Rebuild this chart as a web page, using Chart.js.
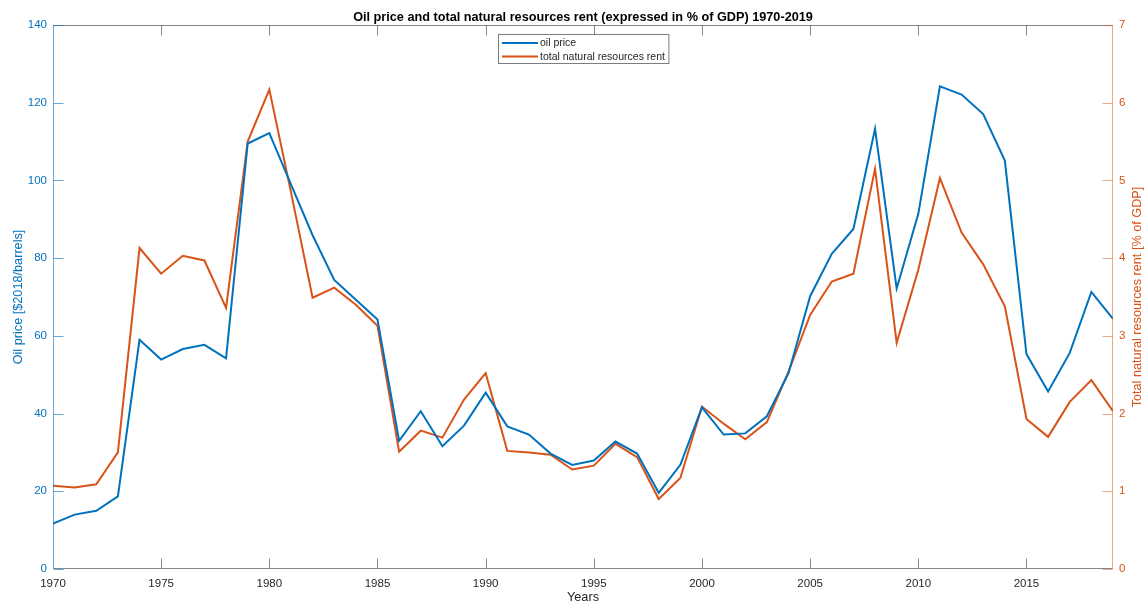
<!DOCTYPE html>
<html>
<head>
<meta charset="utf-8">
<script src="https://cdn.jsdelivr.net/npm/chart.js@4.4.1/dist/chart.umd.min.js"></script>
<style>
  html, body { margin: 0; padding: 0; background: #ffffff; }
  #wrap { width: 1144px; height: 605px; }
</style>
</head>
<body>
<div id="wrap"><canvas id="c" width="1144" height="605"></canvas></div>
<script>
// ---- data ----
const years = [1970,1971,1972,1973,1974,1975,1976,1977,1978,1979,
               1980,1981,1982,1983,1984,1985,1986,1987,1988,1989,
               1990,1991,1992,1993,1994,1995,1996,1997,1998,1999,
               2000,2001,2002,2003,2004,2005,2006,2007,2008,2009,
               2010,2011,2012,2013,2014,2015,2016,2017,2018,2019];
const oilPrice = [11.7,14.0,15.0,18.7,59.0,53.9,56.6,57.7,54.2,109.5,
                  112.2,99.0,85.9,74.4,69.3,64.2,33.0,40.6,31.6,36.9,
                  45.4,36.7,34.6,29.7,26.8,27.9,32.8,29.7,19.6,26.8,
                  41.6,34.6,34.9,39.3,50.4,70.2,81.1,87.5,113.3,72.2,
                  91.4,124.2,122.1,117.1,105.1,55.3,45.7,55.6,71.3,64.4];
const resourceRent = [1.07,1.05,1.09,1.50,4.13,3.80,4.03,3.97,3.36,5.50,
                      6.17,4.85,3.49,3.62,3.40,3.13,1.51,1.78,1.69,2.18,
                      2.52,1.52,1.50,1.47,1.28,1.33,1.61,1.44,0.90,1.17,
                      2.09,1.87,1.67,1.89,2.54,3.27,3.70,3.80,5.15,2.91,
                      3.85,5.03,4.33,3.92,3.38,1.93,1.70,2.15,2.43,2.03];
const seriesLabels = ['oil price', 'total natural resources rent'];
const titleText = 'Oil price and total natural resources rent (expressed in % of GDP) 1970-2019';
const xTitle = 'Years';
const yLeftTitle = 'Oil price [$2018/barrels]';
const yRightTitle = 'Total natural resources rent [% of GDP]';

// ---- styles ----
const FONT = '"Liberation Sans", Arial, Helvetica, sans-serif';
const BLUE = '#0072BD';
const ORANGE = '#D95319';
const DARK = '#262626';

const toPoints = (vals) => years.map((yr, i) => ({ x: yr, y: vals[i] }));

const axesBoxPlugin = {
  id: 'axesBox',
  afterDatasetsDraw(chart) {
    const { ctx, chartArea: ca, scales } = chart;
    const L = Math.round(ca.left) + 0.5, R = Math.round(ca.right) - 0.5;
    const T = Math.round(ca.top) + 0.5, B = Math.round(ca.bottom) - 0.5;
    const tl = 10;
    ctx.save();
    ctx.lineWidth = 1;
    ctx.strokeStyle = 'rgba(38,38,38,0.55)';
    ctx.beginPath();
    ctx.moveTo(L, T); ctx.lineTo(R, T);
    ctx.moveTo(L, B); ctx.lineTo(R, B);
    scales.x.ticks.forEach(t => {
      const px = Math.round(scales.x.getPixelForValue(t.value)) + 0.5;
      if (px <= L + 1 || px >= R - 1) return;
      ctx.moveTo(px, B); ctx.lineTo(px, B - tl);
      ctx.moveTo(px, T); ctx.lineTo(px, T + tl);
    });
    ctx.stroke();
    ctx.strokeStyle = 'rgba(0,114,189,0.6)';
    ctx.beginPath();
    ctx.moveTo(L, T - 0.5); ctx.lineTo(L, B + 0.5);
    scales.y.ticks.forEach(t => {
      const py = Math.round(scales.y.getPixelForValue(t.value)) + 0.5;
      ctx.moveTo(L, py); ctx.lineTo(L + tl, py);
    });
    ctx.stroke();
    ctx.strokeStyle = 'rgba(217,83,25,0.5)';
    ctx.beginPath();
    ctx.moveTo(R, T - 0.5); ctx.lineTo(R, B + 0.5);
    scales.y2.ticks.forEach(t => {
      const py = Math.round(scales.y2.getPixelForValue(t.value)) + 0.5;
      ctx.moveTo(R, py); ctx.lineTo(R - tl, py);
    });
    ctx.stroke();
    ctx.restore();
  }
};

const legendBoxPlugin = {
  id: 'legendBox',
  afterDraw(chart) {
    const { ctx, chartArea: ca } = chart;
    const ds = chart.data.datasets;
    ctx.save();
    ctx.font = '10.5px ' + FONT;
    const textW = Math.max(...ds.map(d => ctx.measureText(d.label).width));
    const padL = 3.5, lineLen = 36, gap = 2, padR = 4;
    const w = padL + lineLen + gap + textW + padR;
    const h = 29;
    const x0 = Math.round((ca.left + ca.right) / 2 - w / 2) + 0.5;
    const y0 = Math.round(ca.top + 9) + 0.5;
    ctx.fillStyle = '#ffffff';
    ctx.fillRect(x0, y0, w, h);
    ctx.strokeStyle = 'rgba(38,38,38,0.6)';
    ctx.lineWidth = 1;
    ctx.strokeRect(x0, y0, w, h);
    const rows = [8.5, 22];
    ds.forEach((d, i) => {
      const y = y0 + rows[i];
      ctx.strokeStyle = d.borderColor;
      ctx.lineWidth = 2;
      ctx.beginPath();
      ctx.moveTo(x0 + padL, y); ctx.lineTo(x0 + padL + lineLen, y);
      ctx.stroke();
      ctx.fillStyle = DARK;
      ctx.textBaseline = 'middle';
      ctx.textAlign = 'left';
      ctx.fillText(d.label, x0 + padL + lineLen + gap, y + 0.5);
    });
    ctx.restore();
  }
};

const rightTitlePlugin = {
  id: 'rightTitle',
  afterDraw(chart) {
    const { ctx, chartArea: ca } = chart;
    ctx.save();
    ctx.font = '12.7px ' + FONT;
    ctx.fillStyle = ORANGE;
    ctx.textAlign = 'center';
    ctx.textBaseline = 'middle';
    ctx.translate(1137, (ca.top + ca.bottom) / 2);
    ctx.rotate(-Math.PI / 2);
    ctx.fillText(yRightTitle, 0, 0);
    ctx.restore();
  }
};

new Chart(document.getElementById('c'), {
  type: 'line',
  data: {
    datasets: [
      { label: seriesLabels[0], data: toPoints(oilPrice), yAxisID: 'y',
        borderColor: BLUE, backgroundColor: BLUE, borderWidth: 2, pointRadius: 0, tension: 0 },
      { label: seriesLabels[1], data: toPoints(resourceRent), yAxisID: 'y2',
        borderColor: ORANGE, backgroundColor: ORANGE, borderWidth: 2, pointRadius: 0, tension: 0 }
    ]
  },
  options: {
    responsive: false,
    animation: false,
    events: [],
    layout: { padding: 0 },
    plugins: {
      legend: { display: false },
      tooltip: { enabled: false },
      title: {
        display: true,
        text: titleText,
        fullSize: false,
        color: '#000000',
        font: { family: FONT, size: 12.7, weight: 'bold', lineHeight: 1.2 },
        padding: { top: 9.4, bottom: 0.36 }
      }
    },
    scales: {
      x: {
        type: 'linear',
        position: 'bottom',
        min: 1970, max: 2019,
        afterFit: (s) => { s.height = 36; },
        grid: { display: false, drawTicks: false },
        border: { display: false },
        ticks: { stepSize: 5, includeBounds: false, padding: 7.5, color: DARK,
                 font: { family: FONT, size: 11.5 }, maxRotation: 0,
                 callback: (v) => String(v) },
        title: { display: true, text: xTitle, color: DARK,
                 font: { family: FONT, size: 12.7, lineHeight: 1.2 },
                 padding: { top: 0, bottom: 0 } }
      },
      y: {
        type: 'linear',
        position: 'left',
        min: 0, max: 140,
        afterFit: (s) => { s.width = 53; },
        grid: { display: false, drawTicks: false },
        border: { display: false },
        ticks: { stepSize: 20, padding: 6, color: BLUE, font: { family: FONT, size: 11.5 } },
        title: { display: true, text: yLeftTitle, color: BLUE,
                 font: { family: FONT, size: 12.7, lineHeight: 1.2 },
                 padding: { top: 10.4, bottom: 0 } }
      },
      y2: {
        type: 'linear',
        position: 'right',
        min: 0, max: 7,
        afterFit: (s) => { s.width = 31; },
        grid: { display: false, drawTicks: false },
        border: { display: false },
        ticks: { stepSize: 1, padding: 6, color: ORANGE, font: { family: FONT, size: 11.5 } },
        title: { display: false }
      }
    }
  },
  plugins: [axesBoxPlugin, legendBoxPlugin, rightTitlePlugin]
});
</script>
</body>
</html>
